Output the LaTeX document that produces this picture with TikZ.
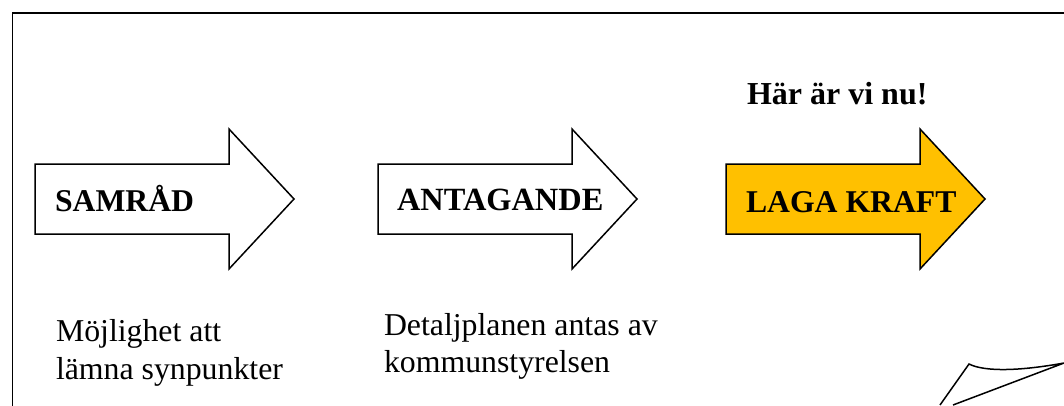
\documentclass[tikz,border=0pt]{standalone}
\usepackage{fontspec}
\setmainfont{Liberation Serif}
\tikzset{
  flow/.style={draw=black,line width=1.5pt,line join=miter,fill=white},
  label/.style={anchor=base west,inner sep=0pt,outer sep=0pt,font=\fontsize{31.7}{38}\selectfont\bfseries},
  body/.style={anchor=base west,inner sep=0pt,outer sep=0pt,font=\fontsize{31.8}{38}\selectfont},
}
\definecolor{amber}{RGB}{255,192,0}
\newcommand{\flowarrow}[2]{%
  \draw[flow,#2] (#1,164) -- ++(194,0) -- ++(0,-35) -- ++(65,70) -- ++(-65,70) -- ++(0,-35) -- ++(-194,0) -- cycle;}
\begin{document}
\begin{tikzpicture}[x=1pt,y=-1pt]
\useasboundingbox (0,0) rectangle (1064,405);
\fill[white] (0,0) rectangle (1064,405);
\clip (0,0) rectangle (1064,405);
\draw[line width=1.8pt] (12.5,420) -- (12.5,13) -- (1080,13);
\flowarrow{35}{}
\flowarrow{378}{}
\flowarrow{726}{fill=amber}
\node[label] (samrad) at (55,211.5) {SAMRÅD};
\node[label,font=\fontsize{32.4}{38}\selectfont\bfseries] (antagande) at (397,210.5) {ANTAGANDE};
\node[label] (laga) at (746,212) {LAGA KRAFT};
\node[label,font=\fontsize{32}{38}\selectfont\bfseries] (har) at (747,104) {Här är vi nu!};
\node[body] (b1) at (56,341) {Möjlighet att};
\node[body] (b2) at (56,379) {lämna synpunkter};
\node[body] (b3) at (384,335) {Detaljplanen antas av};
\node[body] (b4) at (384,372) {kommunstyrelsen};
\draw[line width=1.5pt,line join=miter] (940,405) -- (969,364) .. controls (985,372) and (1020,371) .. (1064,363) -- (953,405);
\end{tikzpicture}
\end{document}
